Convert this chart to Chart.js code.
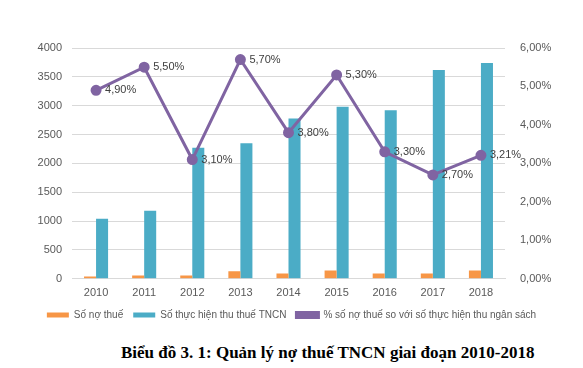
<!DOCTYPE html>
<html>
<head>
<meta charset="utf-8">
<script src="https://cdn.jsdelivr.net/npm/chart.js@4"></script>
<style>
  body { margin: 0; background: #fff; }
  #wrap { position: relative; width: 583px; height: 368px; }
  #chartBox { position: absolute; left: 0; top: 0; width: 583px; height: 330px; }
  #caption {
    position: absolute; left: 121px; top: 343px;
    font: bold 17px "Liberation Serif", "DejaVu Serif", serif; color: #000;
    white-space: nowrap;
  }
</style>
</head>
<body>
<div id="wrap">
  <div id="chartBox"><canvas id="chart"></canvas></div>
  <div id="caption">Biểu đồ 3. 1: Quản lý nợ thuế TNCN giai đoạn 2010-2018</div>
</div>
<script>
// --- data ---
const years = ['2010', '2011', '2012', '2013', '2014', '2015', '2016', '2017', '2018'];
const taxDebt = [40, 57, 57, 131, 91, 143, 91, 91, 143];
const collected = [1040, 1180, 2270, 2350, 2780, 2980, 2920, 3620, 3740];
const debtRatio = [4.90, 5.50, 3.10, 5.70, 3.80, 5.30, 3.30, 2.70, 3.21];

const seriesNames = [
  'Số nợ thuế',
  'Số thực hiện thu thuế TNCN',
  '% số nợ thuế so với số thực hiện thu ngân sách'
];

const tickColor = '#595959';
const gridColor = '#D9D9D9';
const baseFont = { family: "'Liberation Sans', Arial, sans-serif", size: 11 };

// format 4.9 -> "4,90%"
const pct = (v) => v.toFixed(2).replace('.', ',') + '%';

// draws the value labels right of each line point
const lineLabels = {
  id: 'lineLabels',
  afterDatasetsDraw(chart) {
    const meta = chart.getDatasetMeta(2);
    const ctx = chart.ctx;
    ctx.save();
    ctx.font = "11px 'Liberation Sans', Arial, sans-serif";
    ctx.fillStyle = '#404040';
    ctx.textBaseline = 'middle';
    ctx.textAlign = 'left';
    meta.data.forEach((pt, i) => {
      ctx.fillText(pct(debtRatio[i]), pt.x + 9, pt.y);
    });
    ctx.restore();
  }
};

new Chart(document.getElementById('chart'), {
  type: 'bar',
  data: {
    labels: years,
    datasets: [
      {
        label: seriesNames[0],
        data: taxDebt,
        backgroundColor: '#F79646',
        yAxisID: 'y',
        order: 2,
        categoryPercentage: 0.5,
        barPercentage: 1
      },
      {
        label: seriesNames[1],
        data: collected,
        backgroundColor: '#4BACC6',
        yAxisID: 'y',
        order: 2,
        categoryPercentage: 0.5,
        barPercentage: 1
      },
      {
        type: 'line',
        label: seriesNames[2],
        data: debtRatio,
        borderColor: '#8064A2',
        backgroundColor: '#8064A2',
        borderWidth: 3,
        pointRadius: 4,
        pointHoverRadius: 4,
        pointBackgroundColor: '#8064A2',
        pointBorderColor: '#8064A2',
        tension: 0,
        yAxisID: 'y1',
        order: 0
      }
    ]
  },
  options: {
    responsive: true,
    maintainAspectRatio: false,
    animation: false,
    layout: { padding: { top: 48, left: 0, right: 0, bottom: 0 } },
    plugins: {
      title: { display: false },
      tooltip: { enabled: false },
      legend: {
        position: 'bottom',
        labels: {
          boxWidth: 22,
          boxHeight: 5,
          padding: 10,
          color: tickColor,
          font: { family: baseFont.family, size: 10 },
          sort: (a, b) => a.datasetIndex - b.datasetIndex
        }
      }
    },
    scales: {
      x: {
        grid: { display: false },
        border: { display: true, color: gridColor },
        ticks: { color: tickColor, font: baseFont, padding: 0 }
      },
      y: {
        position: 'left',
        min: 0,
        max: 4000,
        ticks: {
          stepSize: 500,
          color: tickColor,
          font: baseFont,
          padding: 10,
          callback: (v) => String(v)
        },
        grid: { color: gridColor, drawTicks: false },
        border: { display: false },
        afterFit(scale) { scale.width = 72; }
      },
      y1: {
        position: 'right',
        min: 0,
        max: 6,
        ticks: {
          stepSize: 1,
          color: tickColor,
          font: baseFont,
          padding: 7,
          callback: (v) => pct(v)
        },
        grid: { display: false },
        border: { display: false },
        afterFit(scale) { scale.width = 78; }
      }
    }
  },
  plugins: [lineLabels]
});
</script>
</body>
</html>
